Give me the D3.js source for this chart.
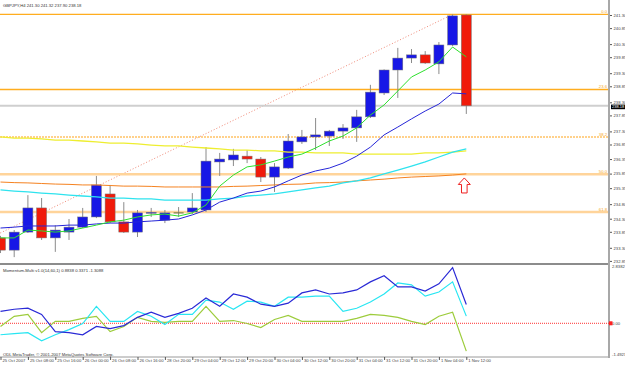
<!DOCTYPE html>
<html>
<head>
<meta charset="utf-8">
<script src="https://cdn.jsdelivr.net/npm/d3@7/dist/d3.min.js"></script>
<style>
  body { margin: 0; background: #ffffff; }
  svg { display: block; font-family: "Liberation Sans", Arial, sans-serif; }
</style>
</head>
<body>
<div id="chart"></div>
<script>
// GBPJPY H4 candles, 35 bars
const timeLabels = ["25 Oct 2007", "25 Oct 08:00", "25 Oct 16:00", "26 Oct 00:00", "26 Oct 08:00", "26 Oct 16:00",
  "28 Oct 20:00", "29 Oct 04:00", "29 Oct 12:00", "29 Oct 20:00", "30 Oct 04:00", "30 Oct 12:00",
  "30 Oct 20:00", "31 Oct 04:00", "31 Oct 12:00", "31 Oct 20:00", "1 Nov 04:00", "1 Nov 12:00"];

const opens = [233.64, 233.22, 233.84, 234.67, 233.64, 233.84, 234.01, 234.36, 235.15, 234.19, 233.84, 234.50,
  234.25, 234.50, 234.53, 234.60, 236.25, 236.32, 236.45, 236.35, 235.73, 236.04, 236.94, 237.11, 237.14, 237.31,
  237.42, 237.80, 238.62, 239.41, 239.82, 239.93, 239.62, 240.27, 241.30];
const highs = [233.71, 233.91, 235.11, 235.01, 234.08, 234.29, 234.67, 235.77, 235.46, 234.87, 234.60, 234.67,
  234.60, 234.70, 235.18, 236.76, 236.56, 236.70, 236.66, 236.42, 236.21, 237.21, 237.35, 237.76, 237.35, 237.55,
  238.04, 238.90, 239.43, 240.17, 240.13, 240.06, 240.37, 241.32, 241.32];
const lows = [233.12, 232.98, 233.81, 233.57, 233.16, 233.57, 233.98, 234.32, 234.15, 233.81, 233.67, 234.36,
  234.15, 234.36, 234.46, 234.53, 235.77, 236.11, 236.21, 235.56, 235.22, 236.01, 236.87, 236.66, 236.80, 237.04,
  236.94, 237.76, 238.55, 238.45, 239.65, 239.62, 239.27, 240.23, 237.90];
const closes = [233.22, 233.84, 234.67, 233.64, 233.91, 234.01, 234.36, 235.46, 234.19, 233.84, 234.50, 234.52,
  234.50, 234.50, 234.67, 236.28, 236.35, 236.49, 236.35, 235.73, 236.08, 236.97, 237.11, 237.18, 237.31, 237.42,
  237.80, 238.65, 239.41, 239.82, 239.93, 239.65, 240.27, 241.27, 238.18];

// moving averages
const maGreen = [233.64, 233.64, 233.91, 233.88, 233.84, 233.88, 233.98, 234.08, 234.19, 234.25, 234.36, 234.43,
  234.46, 234.39, 234.50, 234.77, 235.42, 235.80, 236.08, 236.15, 236.28, 236.42, 236.52, 236.73, 236.97, 237.14,
  237.42, 237.86, 238.21, 238.69, 239.17, 239.41, 239.69, 240.20, 239.86];
const maBlue = [233.98, 234.01, 234.05, 234.05, 234.05, 234.08, 234.08, 234.12, 234.15, 234.15, 234.19, 234.22,
  234.25, 234.29, 234.43, 234.60, 234.87, 235.01, 235.18, 235.25, 235.39, 235.60, 235.80, 235.94, 236.04, 236.21,
  236.45, 236.76, 237.18, 237.45, 237.73, 238.00, 238.24, 238.62, 238.59];
const maCyan = [235.29, 235.25, 235.22, 235.18, 235.15, 235.11, 235.08, 235.05, 235.01, 235.01, 234.98, 234.98,
  234.94, 234.94, 234.94, 234.94, 234.98, 235.01, 235.08, 235.11, 235.15, 235.22, 235.29, 235.36, 235.42, 235.53,
  235.60, 235.70, 235.84, 235.97, 236.11, 236.25, 236.42, 236.59, 236.70];
const maYellow = [237.11, 237.07, 237.07, 237.04, 237.00, 237.00, 236.97, 236.94, 236.90, 236.90, 236.87, 236.83,
  236.80, 236.80, 236.76, 236.73, 236.70, 236.66, 236.66, 236.63, 236.63, 236.59, 236.59, 236.56, 236.56, 236.56,
  236.52, 236.52, 236.52, 236.52, 236.52, 236.56, 236.56, 236.59, 236.63];
const maOrange = [235.56, 235.54, 235.53, 235.51, 235.49, 235.48, 235.46, 235.46, 235.44, 235.42, 235.42, 235.41,
  235.39, 235.39, 235.39, 235.39, 235.39, 235.41, 235.42, 235.44, 235.46, 235.48, 235.49, 235.53, 235.54, 235.56,
  235.60, 235.63, 235.66, 235.70, 235.73, 235.75, 235.77, 235.80, 235.84];

// Momentum-Multi indicator
const momBlue = [0.56, 0.66, 0.71, 0.42, -0.39, -0.44, -0.54, -0.15, -0.25, -0.11, 0.28, 0.52, 0.28, 0.47, 0.71,
  1.19, 0.80, 1.38, 1.23, 0.90, 0.80, 0.95, 1.43, 1.57, 1.38, 1.43, 1.57, 1.95, 2.24, 1.71, 1.71, 1.52, 1.86,
  2.62, 0.8838];
const momCyan = [-0.54, -0.49, -0.44, -0.82, -0.54, -0.30, -0.01, 0.80, 0.09, 0.09, 0.56, 0.33, -0.06, 0.42, 0.42,
  1.09, 1.00, 0.66, 1.04, 1.00, 0.80, 1.23, 1.23, 1.28, 1.28, 0.56, 0.71, 1.00, 1.38, 1.90, 1.81, 1.28, 1.47,
  1.95, 0.3371];
const momLime = [-0.15, 0.33, 0.42, -0.44, 0.09, 0.09, 0.23, 0.33, -0.39, -0.15, 0.28, 0.09, 0.04, 0.09, 0.09,
  0.80, 0.09, 0.13, -0.01, -0.20, 0.18, 0.37, 0.09, 0.09, 0.09, 0.09, 0.23, 0.42, 0.37, 0.28, 0.09, -0.06, 0.33,
  0.52, -1.3088];

// fibonacci retracement
const fibLabels = ["0.0", "23.6", "38.2", "50.0", "61.8"];
const fibPrices = [241.32, 238.74, 237.11, 235.83, 234.53];
const fibAnchorBars = [-15, 33];
const fibAnchorPrices = [230.40, 241.32];

const priceTicks = [241.30, 240.85, 240.30, 239.85, 239.30, 238.85, 238.30, 237.85, 237.30, 236.85, 236.35,
  235.85, 235.35, 234.80, 234.30, 233.85, 233.30, 232.85];
const lastPrice = 238.18;
const momRange = [-1.4923, 2.8382];
const arrowBar = 34;
const arrowPrice = 235.70;

const headerText = "GBPJPY,H4  241.30 241.32 237.90 238.18";
const indicatorText = "Momentum-Multi v1.0(14,60,1) 0.8838 0.3371 -1.3088";
const copyrightText = "ODL MetaTrader, \u00a9 2001-2007 MetaQuotes Software Corp.";

document.addEventListener("DOMContentLoaded", function () {
  const width = 625;
  const height = 365;
  const axisX = 609;
  const mainBottom = 263;
  const subTop = 265;
  const subBottom = 357;
  const fs = 4.2;

  const bars = opens.map((o, i) => ({ i: i, o: o, h: highs[i], l: lows[i], c: closes[i] }));

  const x = d3.scaleLinear().domain([0, 34]).range([0.5, 466.3]);
  const y = d3.scaleLinear().domain([232.85, 241.30]).range([260.9, 15]);
  const ySub = d3.scaleLinear().domain(momRange).range([355, 263]);

  const svg = d3.select("#chart").append("svg")
    .attr("width", width)
    .attr("height", height);

  svg.append("rect").attr("width", width).attr("height", height).attr("fill", "#ffffff");

  const defs = svg.append("defs");
  defs.append("clipPath").attr("id", "clipMain")
    .append("rect").attr("x", 0).attr("y", 0).attr("width", axisX).attr("height", mainBottom);
  defs.append("clipPath").attr("id", "clipSub")
    .append("rect").attr("x", 0).attr("y", subTop).attr("width", axisX).attr("height", subBottom - subTop);

  const main = svg.append("g").attr("clip-path", "url(#clipMain)");

  // fib trend line
  main.append("line")
    .attr("x1", x(fibAnchorBars[0])).attr("y1", y(fibAnchorPrices[0]))
    .attr("x2", x(fibAnchorBars[1])).attr("y2", y(fibAnchorPrices[1]))
    .attr("stroke", "#f08a78").attr("stroke-width", 1).attr("stroke-dasharray", "1,2");

  // fib levels
  const fibStyle = [
    { c: "#ffad1f", w: 1.4, d: null },
    { c: "#ffad1f", w: 1.4, d: null },
    { c: "#ffc266", w: 1.4, d: "2,1" },
    { c: "#ffd49a", w: 2.4, d: null },
    { c: "#ffd49a", w: 2.4, d: null },
  ];
  fibPrices.forEach((p, k) => {
    main.append("line")
      .attr("x1", 0).attr("x2", axisX)
      .attr("y1", y(p)).attr("y2", y(p))
      .attr("stroke", fibStyle[k].c)
      .attr("stroke-width", fibStyle[k].w)
      .attr("stroke-dasharray", fibStyle[k].d);
    main.append("text")
      .attr("x", axisX - 2).attr("y", y(p) - 1)
      .attr("text-anchor", "end")
      .attr("font-size", fs)
      .attr("fill", "#f5a623")
      .text(fibLabels[k]);
  });

  // last price line
  main.append("line")
    .attr("x1", 0).attr("x2", axisX)
    .attr("y1", y(lastPrice)).attr("y2", y(lastPrice))
    .attr("stroke", "#cfcfcf").attr("stroke-width", 2);

  // candles
  const candle = main.selectAll("g.bar").data(bars).enter().append("g").attr("class", "bar");
  candle.append("line")
    .attr("x1", (d) => x(d.i)).attr("x2", (d) => x(d.i))
    .attr("y1", (d) => y(d.h)).attr("y2", (d) => y(d.l))
    .attr("stroke", "#8a8a8a").attr("stroke-width", 1);
  candle.filter((d) => Math.abs(d.c - d.o) >= 0.015).append("rect")
    .attr("x", (d) => x(d.i) - 5)
    .attr("width", 10)
    .attr("y", (d) => y(Math.max(d.o, d.c)))
    .attr("height", (d) => Math.max(1, Math.abs(y(d.o) - y(d.c))))
    .attr("fill", (d) => (d.c >= d.o ? "#1717e6" : "#f01a0a"))
    .attr("stroke", "#777").attr("stroke-width", 0.5);
  candle.filter((d) => Math.abs(d.c - d.o) < 0.015).append("line")
    .attr("x1", (d) => x(d.i) - 5).attr("x2", (d) => x(d.i) + 5)
    .attr("y1", (d) => y(d.o)).attr("y2", (d) => y(d.o))
    .attr("stroke", "#7a7a4a").attr("stroke-width", 1.2);

  // moving averages
  const priceLine = d3.line().x((d, i) => x(i)).y((d) => y(d));
  const maSeries = [
    { data: maOrange, color: "#f58220", w: 1 },
    { data: maYellow, color: "#eeee30", w: 1.3 },
    { data: maCyan, color: "#2fe3ee", w: 1.3 },
    { data: maBlue, color: "#2626d8", w: 1 },
    { data: maGreen, color: "#2ee02e", w: 1 },
  ];
  maSeries.forEach((s) => {
    main.append("path")
      .attr("d", priceLine(s.data))
      .attr("fill", "none")
      .attr("stroke", s.color)
      .attr("stroke-width", s.w);
  });

  // arrow mark
  const ax = x(arrowBar) - 2;
  const ay = y(arrowPrice);
  main.append("path")
    .attr("d", `M${ax},${ay} l6,6.5 h-3.2 v8.5 h-5.6 v-8.5 h-3.2 Z`)
    .attr("fill", "#ffffff")
    .attr("stroke", "#ee2020")
    .attr("stroke-width", 1);

  // header
  svg.append("text")
    .attr("x", 3).attr("y", 6.5)
    .attr("font-size", fs).attr("fill", "#333")
    .text(headerText);

  // panel separator and frames
  svg.append("rect").attr("x", 0).attr("y", mainBottom).attr("width", axisX + 1).attr("height", 2)
    .attr("fill", "#8c8c8c");
  svg.append("line").attr("x1", 0).attr("x2", axisX).attr("y1", subBottom).attr("y2", subBottom)
    .attr("stroke", "#9a9a9a").attr("stroke-width", 1);
  svg.append("line").attr("x1", axisX).attr("x2", axisX).attr("y1", 0).attr("y2", subBottom + 1)
    .attr("stroke", "#a8a8a8").attr("stroke-width", 2);

  // price axis
  const priceAxis = d3.axisRight(y)
    .tickValues(priceTicks)
    .tickSize(2)
    .tickPadding(1.5)
    .tickFormat(d3.format(".2f"));
  const pa = svg.append("g").attr("transform", `translate(${axisX + 1},0)`).call(priceAxis);
  pa.select(".domain").remove();
  pa.selectAll("line").attr("stroke", "#555");
  pa.selectAll("text").attr("font-size", fs).attr("fill", "#444").attr("font-family", "Liberation Sans, Arial");

  // last price box
  const ly = y(lastPrice) + 1;
  svg.append("rect")
    .attr("x", axisX + 2).attr("y", ly - 2.2)
    .attr("width", 14).attr("height", 4.6)
    .attr("fill", "#000");
  svg.append("text")
    .attr("x", axisX + 3).attr("y", ly + 1.5)
    .attr("font-size", 4).attr("fill", "#fff")
    .text(lastPrice.toFixed(2));

  // indicator panel
  const sub = svg.append("g").attr("clip-path", "url(#clipSub)");
  sub.append("line")
    .attr("x1", 0).attr("x2", axisX)
    .attr("y1", ySub(0)).attr("y2", ySub(0))
    .attr("stroke", "#ff3030").attr("stroke-width", 1).attr("stroke-dasharray", "1,1");

  const momLine = d3.line().x((d, i) => x(i)).y((d) => ySub(d));
  const momSeries = [
    { data: momLime, color: "#9dcc3c" },
    { data: momCyan, color: "#28e6f2" },
    { data: momBlue, color: "#2a2ad6" },
  ];
  momSeries.forEach((s) => {
    sub.append("path")
      .attr("d", momLine(s.data))
      .attr("fill", "none")
      .attr("stroke", s.color)
      .attr("stroke-width", 1.2);
  });

  svg.append("text")
    .attr("x", 3).attr("y", 271.5)
    .attr("font-size", fs).attr("fill", "#333")
    .text(indicatorText);

  // indicator scale labels
  const subLabels = [
    { v: momRange[1], t: "2.8382", dy: 5 },
    { v: 0, t: "0.00", dy: 1.5 },
    { v: momRange[0], t: "-1.4923", dy: 0.5 },
  ];
  subLabels.forEach((s) => {
    svg.append("text")
      .attr("x", axisX + 3).attr("y", ySub(s.v) + s.dy)
      .attr("font-size", fs).attr("fill", "#444")
      .text(s.t);
  });
  svg.append("rect")
    .attr("x", axisX).attr("y", ySub(0) - 2)
    .attr("width", 3.5).attr("height", 4)
    .attr("fill", "#ff2020");

  svg.append("text")
    .attr("x", 3).attr("y", 356)
    .attr("font-size", fs).attr("fill", "#333")
    .text(copyrightText);

  // time axis
  const timeTicks = timeLabels.map((t, k) => k * 2);
  const timeAxis = d3.axisBottom(x)
    .tickValues(timeTicks)
    .tickSize(3)
    .tickFormat((d, k) => timeLabels[k]);
  const ta = svg.append("g").attr("transform", `translate(0,${subBottom})`).call(timeAxis);
  ta.select(".domain").remove();
  ta.selectAll("line").attr("stroke", "#555");
  ta.selectAll("text")
    .attr("font-size", fs)
    .attr("fill", "#444")
    .attr("font-family", "Liberation Sans, Arial")
    .attr("text-anchor", "start")
    .attr("dx", 1.5)
    .attr("y", 2.5)
    .attr("dy", "0.71em");
});
</script>
</body>
</html>
